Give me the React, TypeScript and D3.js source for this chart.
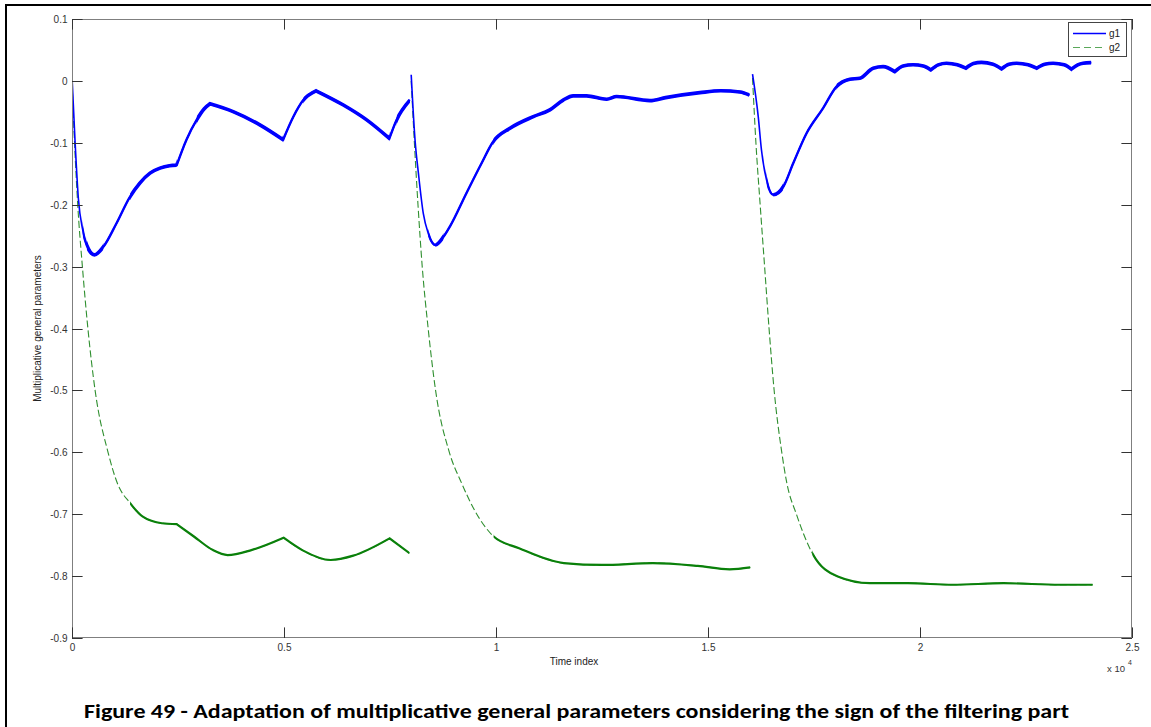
import React from "react";
import * as d3 from "d3";

// Time index (raw samples) and parameter value pairs, one array per run.
const g1Run1: [number, number][] = [
  [0, 0.007], [70, -0.095], [150, -0.19], [250, -0.24], [350, -0.266],
  [530, -0.281], [740, -0.268], [1050, -0.23], [1370, -0.187], [1600, -0.165],
  [1840, -0.149], [2075, -0.141], [2300, -0.137], [2470, -0.136], [2700, -0.095],
  [2940, -0.063], [3120, -0.045], [3255, -0.037], [3800, -0.0496], [4430, -0.071],
  [4980, -0.095], [5220, -0.058], [5455, -0.031], [5755, -0.016], [6400, -0.039],
  [6950, -0.063], [7485, -0.093], [7655, -0.063], [7970, -0.031],
];
const g1Run2: [number, number][] = [
  [8000, 0.01], [8090, -0.095], [8170, -0.149], [8285, -0.214], [8400, -0.246],
  [8570, -0.265], [8760, -0.252], [8915, -0.235], [9305, -0.181], [9660, -0.133],
  [9935, -0.098], [10330, -0.0765], [10880, -0.0577], [11270, -0.0468], [11585, -0.031],
  [11820, -0.0242], [12135, -0.0242], [12610, -0.0296], [12845, -0.0253], [13630, -0.0318],
  [14000, -0.027], [14810, -0.019], [15300, -0.016], [15755, -0.018], [15980, -0.023],
];
const g1Run3: [number, number][] = [
  [16050, 0.011], [16185, -0.0577], [16260, -0.111], [16380, -0.16], [16540, -0.184],
  [16775, -0.171], [17010, -0.133], [17325, -0.0845], [17715, -0.044], [18030, -0.0092],
  [18345, 0.0027], [18580, 0.0043], [18895, 0.0205], [19130, 0.023], [19405, 0.015],
  [19600, 0.024], [19835, 0.026], [20080, 0.024], [20255, 0.0178], [20430, 0.026],
  [20625, 0.0286], [20880, 0.026], [21080, 0.0205], [21260, 0.028], [21450, 0.03],
  [21720, 0.027], [21925, 0.0194], [22100, 0.027], [22280, 0.0286], [22550, 0.026],
  [22750, 0.0205], [22940, 0.027], [23140, 0.0286], [23400, 0.026], [23570, 0.019],
  [23720, 0.026], [23845, 0.0286], [24040, 0.0296],
];

const g2Run1: [number, number][] = [
  [0, 0.0], [60, -0.1], [135, -0.2], [245, -0.3], [375, -0.4], [545, -0.5],
  [850, -0.6], [1070, -0.65], [1370, -0.682], [1670, -0.704],
  [2120, -0.7146], [2470, -0.716], [2875, -0.736], [3325, -0.758], [3670, -0.766],
  [4230, -0.758], [4990, -0.738], [5430, -0.758], [6100, -0.774], [6635, -0.767],
  [7490, -0.739], [7960, -0.763],
];
const g2Run2: [number, number][] = [
  [8000, 0.0], [8075, -0.1], [8160, -0.2], [8260, -0.3], [8400, -0.4], [8575, -0.5],
  [8900, -0.6], [9190, -0.65], [9490, -0.693], [9945, -0.736], [10545, -0.755],
  [11600, -0.779], [12500, -0.782], [13700, -0.779], [14760, -0.7835], [15510, -0.789],
  [16000, -0.786],
];
const g2Run3: [number, number][] = [
  [16050, 0.005], [16130, -0.1], [16230, -0.2], [16335, -0.3], [16440, -0.4],
  [16560, -0.5], [16740, -0.6], [16860, -0.65], [17085, -0.7], [17460, -0.763],
  [18060, -0.8008], [18815, -0.8115], [19715, -0.8115], [20770, -0.814],
  [21970, -0.8115], [23300, -0.814], [24075, -0.814],
];

// Time indices where the adaptation switches and the trace has a corner.
const g1Kinks1 = [2470, 3255, 4980, 5755, 7485];
const g1Kinks2: number[] = [];
const g1Kinks3 = [19405, 20255, 21080, 21925, 22750, 23570];
const g2Kinks1 = [2470, 4990, 7490];
const g2Kinks2: number[] = [];
const g2Kinks3: number[] = [];

const xTickValues = [0, 5000, 10000, 15000, 20000, 25000];
const xTickLabels = ["0", "0.5", "1", "1.5", "2", "2.5"];
const yTickValues = [0.1, 0, -0.1, -0.2, -0.3, -0.4, -0.5, -0.6, -0.7, -0.8, -0.9];
const yTickLabels = ["0.1", "0", "-0.1", "-0.2", "-0.3", "-0.4", "-0.5", "-0.6", "-0.7", "-0.8", "-0.9"];

const seriesNames = ["g1", "g2"];
const titleText = "Figure 49 - Adaptation of multiplicative general parameters considering the sign of the filtering part";

const W = 1151;
const H = 727;
const plot = { left: 72, right: 1132, top: 19, bottom: 638 };
const TICK = 10.6;
const axisFont = "'Liberation Sans', Arial, sans-serif";

const x = d3.scaleLinear().domain([0, 25000]).range([plot.left, plot.right]);
const y = d3.scaleLinear().domain([-0.9, 0.1]).range([plot.bottom, plot.top]);

type Pt = [number, number];

const line = d3.line<Pt>().x((d) => x(d[0])).y((d) => y(d[1])).curve(d3.curveMonotoneX);

// Smooth path that keeps sharp corners at the given time indices.
function kinkedPath(data: Pt[], kinks: number[]): string {
  const pieces: Pt[][] = [[]];
  data.forEach((p, i) => {
    pieces[pieces.length - 1].push(p);
    if (kinks.includes(p[0]) && i < data.length - 1) pieces.push([p]);
  });
  return pieces
    .map((pc, i) => {
      const d = line(pc) || "";
      return i === 0 ? d : "L" + d.slice(1);
    })
    .join("");
}

// Pixel x-intervals where the trace is no steeper than `limit` (px per px).
function gentleSpans(data: Pt[], limit: number): [number, number][] {
  const spans: [number, number][] = [];
  for (let i = 1; i < data.length; i++) {
    const x0 = x(data[i - 1][0]), x1 = x(data[i][0]);
    const dy = Math.abs(y(data[i][1]) - y(data[i - 1][1]));
    const slope = dy / Math.max(1e-6, x1 - x0);
    if (slope <= limit) {
      const last = spans[spans.length - 1];
      if (last && Math.abs(last[1] - x0) < 1e-6) last[1] = x1;
      else spans.push([x0, x1]);
    }
  }
  return spans;
}

function SpanClip({ id, spans }: { id: string; spans: [number, number][] }) {
  return (
    <clipPath id={id}>
      {spans.map(([a, b], i) => (
        <rect key={i} x={a} y={0} width={b - a} height={H} />
      ))}
    </clipPath>
  );
}

function G1({ data, kinks, id }: { data: Pt[]; kinks: number[]; id: string }) {
  const d = kinkedPath(data, kinks);
  return (
    <g>
      <defs>
        <SpanClip id={id + "m"} spans={gentleSpans(data, 4)} />
        <SpanClip id={id + "t"} spans={gentleSpans(data, 1.5)} />
      </defs>
      <path d={d} fill="none" stroke="#0000ff" strokeWidth={1.6} strokeLinejoin="miter" />
      <path d={d} fill="none" stroke="#0000ff" strokeWidth={2.4} clipPath={`url(#${id}m)`} />
      <path d={d} fill="none" stroke="#0000ff" strokeWidth={3.6} clipPath={`url(#${id}t)`} />
    </g>
  );
}

function G2({ data, kinks, id }: { data: Pt[]; kinks: number[]; id: string }) {
  const d = kinkedPath(data, kinks);
  return (
    <g>
      <defs>
        <SpanClip id={id + "s"} spans={gentleSpans(data, 1.3)} />
      </defs>
      <path d={d} fill="none" stroke="#2f8f2f" strokeWidth={1.1} strokeDasharray="7,3" />
      <path d={d} fill="none" stroke="#0a800a" strokeWidth={2.2} clipPath={`url(#${id}s)`} />
    </g>
  );
}

export default function App() {
  return (
    <svg width={W} height={H} viewBox={`0 0 ${W} ${H}`}
      style={{ position: "absolute", left: 0, top: 0, background: "#fff" }}>
      <rect x={0} y={0} width={W} height={H} fill="#fff" />
      {/* page frame */}
      <line x1={5} y1={5} x2={W} y2={5} stroke="#000" strokeWidth={2} />
      <line x1={6} y1={4} x2={6} y2={H} stroke="#000" strokeWidth={2} />

      <defs>
        <clipPath id="plotClip">
          <rect x={plot.left} y={plot.top - 2} width={plot.right - plot.left} height={plot.bottom - plot.top + 2} />
        </clipPath>
      </defs>

      {/* data */}
      <g clipPath="url(#plotClip)">
        <G2 data={g2Run1} kinks={g2Kinks1} id="g2a" />
        <G2 data={g2Run2} kinks={g2Kinks2} id="g2b" />
        <G2 data={g2Run3} kinks={g2Kinks3} id="g2c" />
        <G1 data={g1Run1} kinks={g1Kinks1} id="g1a" />
        <G1 data={g1Run2} kinks={g1Kinks2} id="g1b" />
        <G1 data={g1Run3} kinks={g1Kinks3} id="g1c" />
      </g>

      {/* axes box */}
      <rect x={plot.left + 0.5} y={plot.top + 0.5} width={plot.right - plot.left - 1}
        height={plot.bottom - plot.top - 1} fill="none" stroke="#7f7f7f" strokeWidth={1} />

      {/* y ticks */}
      {yTickValues.map((v, i) => {
        const py = Math.round(y(v)) + 0.5;
        return (
          <g key={"y" + i}>
            <line x1={plot.left} x2={plot.left + TICK} y1={py} y2={py} stroke="#333" />
            <line x1={plot.right - TICK} x2={plot.right} y1={py} y2={py} stroke="#333" />
            <text x={67.5} y={py + 3.5} textAnchor="end" fontFamily={axisFont} fontSize={10} fill="#333">
              {yTickLabels[i]}
            </text>
          </g>
        );
      })}

      {/* x ticks */}
      {xTickValues.map((t, i) => {
        const px = Math.round(x(t)) + 0.5;
        return (
          <g key={"x" + i}>
            <line x1={px} x2={px} y1={plot.bottom} y2={plot.bottom - TICK} stroke="#333" />
            <line x1={px} x2={px} y1={plot.top} y2={plot.top + TICK} stroke="#333" />
            <text x={px} y={651} textAnchor="middle" fontFamily={axisFont} fontSize={10} fill="#333">
              {xTickLabels[i]}
            </text>
          </g>
        );
      })}

      {/* exponent note */}
      <text x={1107} y={672} fontFamily={axisFont} fontSize={9.5} fill="#333">x 10</text>
      <text x={1128} y={665} fontFamily={axisFont} fontSize={7} fill="#333">4</text>

      {/* axis labels */}
      <text x={574} y={665} textAnchor="middle" fontFamily={axisFont} fontSize={10} fill="#222">Time index</text>
      <text transform={`translate(41,${(plot.top + plot.bottom) / 2}) rotate(-90)`} textAnchor="middle"
        fontFamily={axisFont} fontSize={10} fill="#222">
        Multiplicative general parameters
      </text>

      {/* legend */}
      <g>
        <rect x={1068.5} y={22.5} width={58} height={34} fill="#fff" stroke="#444" strokeWidth={1} />
        <line x1={1073} x2={1106} y1={33.5} y2={33.5} stroke="#0000ff" strokeWidth={1.3} />
        <text x={1109} y={37} fontFamily={axisFont} fontSize={10} fill="#222">{seriesNames[0]}</text>
        <line x1={1073} x2={1106} y1={47.5} y2={47.5} stroke="#5aa85a" strokeWidth={1.2} strokeDasharray="7,4" />
        <text x={1109} y={51} fontFamily={axisFont} fontSize={10} fill="#222">{seriesNames[1]}</text>
      </g>

      {/* caption */}
      <text x={576.5} y={718} textAnchor="middle" fontFamily="Carlito, Lato, 'Open Sans', sans-serif"
        fontWeight={700} fontSize={20} fill="#000" textLength={985} lengthAdjust="spacingAndGlyphs">
        {titleText}
      </text>
    </svg>
  );
}
